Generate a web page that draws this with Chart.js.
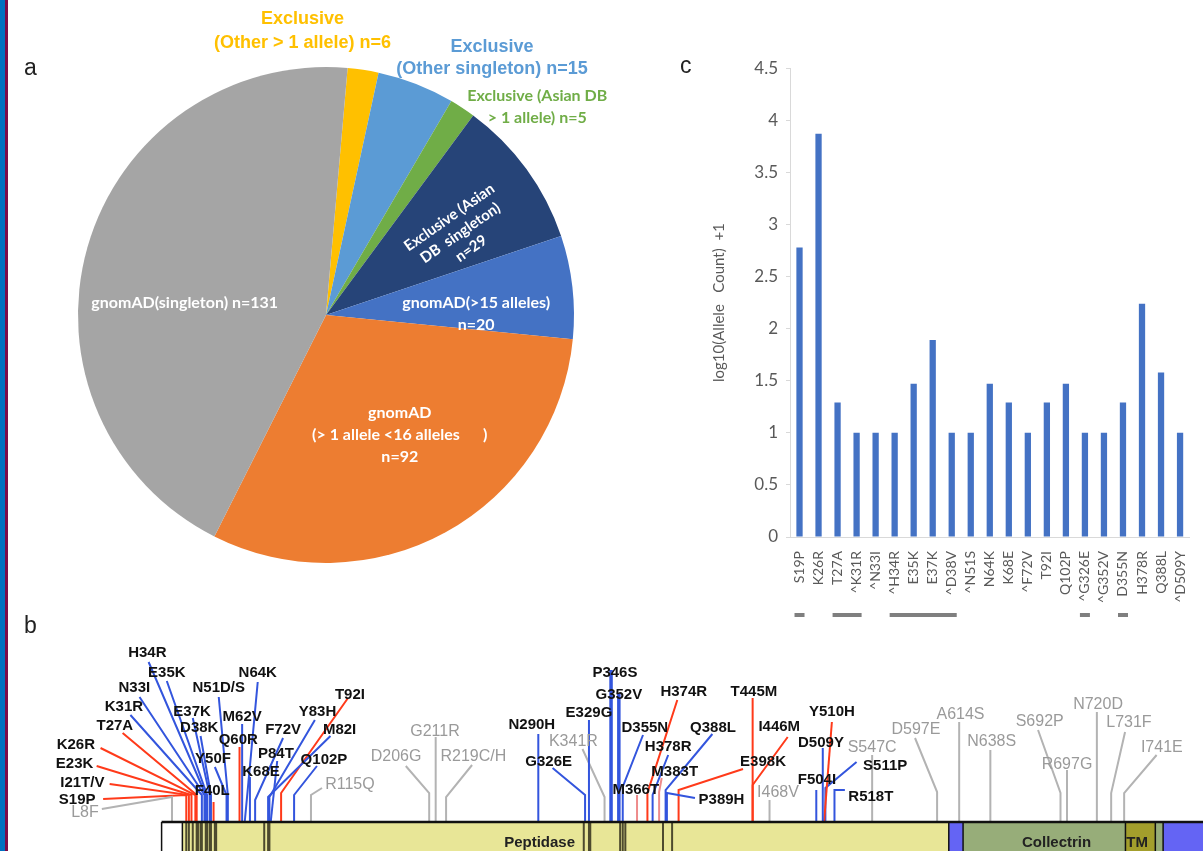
<!DOCTYPE html>
<html>
<head>
<meta charset="utf-8">
<script src="https://cdn.jsdelivr.net/npm/chart.js@4.4.1/dist/chart.umd.min.js"></script>
<style>
  html, body { margin: 0; padding: 0; background: #fff; }
  body { width: 1203px; height: 851px; position: relative; overflow: hidden; font-family: "Liberation Sans", Arial, sans-serif; }
  .edge1 { position: absolute; left: 0; top: 0; width: 5px; height: 851px; background: #0070c0; }
  .edge2 { position: absolute; left: 5px; top: 0; width: 3px; height: 851px; background: #7b0c4a; }
  .tag { position: absolute; font-size: 23px; color: #222; line-height: 1; }
  .box { position: absolute; }
</style>
</head>
<body>
<div class="edge1"></div><div class="edge2"></div>
<div class="box" style="left:0;top:0;width:680px;height:600px;"><canvas id="pieChart"></canvas></div>
<div class="box" style="left:690px;top:50px;width:513px;height:580px;"><canvas id="barChart"></canvas></div>
<div class="box" style="left:0;top:600px;width:1203px;height:251px;"><canvas id="lolliChart"></canvas></div>
<div class="tag" style="left:24px;top:56px;">a</div>
<div class="tag" style="left:680px;top:54px;">c</div>
<div class="tag" style="left:24px;top:614px;">b</div>

<script>
// ---- panel a: variant classes ----
const pieCategories = [
  'Exclusive (Other > 1 allele)',
  'Exclusive (Other singleton)',
  'Exclusive (Asian DB > 1 allele)',
  'Exclusive (Asian DB singleton)',
  'gnomAD(>15 alleles)',
  'gnomAD (> 1 allele <16 alleles)',
  'gnomAD(singleton)'
];
const pieCounts = [6, 15, 5, 29, 20, 92, 131];
const pieColors = ['#ffc000', '#5b9bd5', '#70ad47', '#264478', '#4472c4', '#ed7d31', '#a5a5a5'];

// ---- panel c: allele counts ----
const variants = ['S19P', 'K26R', 'T27A', '^K31R', '^N33I', '^H34R', 'E35K', 'E37K', '^D38V', '^N51S',
  'N64K', 'K68E', '^F72V', 'T92I', 'Q102P', '^G326E', '^G352V', 'D355N', 'H378R', 'Q388L', '^D509Y'];
const logCounts = [2.78, 3.87, 1.29, 1, 1, 1, 1.47, 1.89, 1, 1,
  1.47, 1.29, 1, 1.29, 1.47, 1, 1, 1.29, 2.24, 1.58, 1];
const underlined = [0, 2, 3, 5, 6, 7, 8, 15, 17];
const yTicks = [0, 0.5, 1, 1.5, 2, 2.5, 3, 3.5, 4, 4.5];

// ---- panel b: variants along the protein ----
const lolliNames = ['L8F', 'S19P', 'I21T/V', 'E23K', 'K26R', 'T27A', 'K31R', 'N33I', 'H34R', 'E35K',
  'E37K', 'D38K', 'F40L', 'Y50F', 'N51D/S', 'Q60R', 'M62V', 'N64K', 'K68E', 'F72V',
  'M82I', 'Y83H', 'P84T', 'T92I', 'Q102P', 'R115Q', 'D206G', 'G211R', 'R219C/H', 'N290H',
  'G326E', 'E329G', 'K341R', 'P346S', 'G352V', 'D355N', 'M366T', 'H374R', 'H378R', 'M383T',
  'Q388L', 'P389H', 'E398K', 'T445M', 'I446M', 'I468V', 'F504I', 'D509Y', 'Y510H', 'S511P',
  'R518T', 'S547C', 'D597E', 'A614S', 'N638S', 'S692P', 'R697G', 'N720D', 'L731F', 'I741E'];
const lolliPos = [8, 19, 21, 23, 26, 27, 31, 33, 34, 35,
  37, 38, 40, 50, 51, 60, 62, 64, 68, 72,
  82, 83, 84, 92, 102, 115, 206, 211, 219, 290,
  326, 329, 341, 346, 352, 355, 366, 374, 378, 383,
  388, 389, 398, 455, 455, 468, 504, 509, 510, 511,
  518, 547, 597, 614, 638, 692, 697, 720, 731, 741];
// r = red, b = blue, g = grey, f = faint red
const lolliKind = ['g', 'r', 'r', 'r', 'r', 'r', 'b', 'b', 'b', 'b',
  'b', 'b', 'r', 'b', 'b', 'r', 'b', 'b', 'b', 'b',
  'b', 'b', 'b', 'r', 'b', 'g', 'g', 'g', 'g', 'b',
  'b', 'b', 'g', 'b', 'b', 'b', 'f', 'r', 'b', 'f',
  'b', 'b', 'r', 'r', 'r', 'g', 'b', 'b', 'r', 'b',
  'b', 'g', 'g', 'g', 'g', 'g', 'g', 'g', 'g', 'g'];

const domainStart = [0, 16, 606, 617, 742, 765, 771];
const domainEnd = [16, 606, 617, 742, 765, 771, 830];
const domainName = ['', 'Peptidase', '', 'Collectrin', 'TM', '', ''];
const domainLabelAt = [0, 291, 0, 689, 751, 0, 0];
const contactSites = [19, 21, 24, 27, 28, 30, 31, 34, 35, 37, 38, 41, 42, 79, 82, 83, 325, 329, 330, 353, 355, 357, 386, 393];

// label layout for panel b, in axis units: [labelX, labelY, lineStartX, lineStartY, kneeY]
const lolliLayout = [
  [-59, 9, -46, 13, 25], [-65, 22, -45, 23, 27], [-61, 39, -40, 38, 27], [-67, 58, -50, 56, 27], [-66, 77, -47, 74, 27],
  [-36, 96, -30, 89, 27], [-29, 115, -24, 107, 27], [-21, 134, -17, 125, 27], [-11, 169, -10, 160, 27], [4, 149, 4, 141, 27],
  [23.5, 110, 24, 104, 27], [29, 94, 30, 86, 27], [39, 31, 40, 20, null], [39.6, 63, 41, 55, 27], [44, 134, 44, 125, 27],
  [59, 82, 60, 75, null], [62, 105, 62, 98, null], [74, 149, 74, 140, 0], [76.5, 50, 68, 45, null], [93.5, 92, 93.5, 84, 22],
  [137, 92, 130, 86, 25], [120, 110, 118, 102, 25], [88, 68, 89, 61, 0], [145, 127, 143.5, 124, 29], [125, 62, 119.6, 56, 27],
  [145, 37, 123.5, 34, 27], [180.5, 65, 188, 56, 29], [210.5, 90, 211, 85, null], [240, 65, 239, 57, 25], [285, 97, 290, 88, null],
  [298, 60, 301, 54, 27], [329, 109, 329, 102, null], [317, 80, 324, 73, 25], [349, 149, 346, 152, null], [352, 127, 352, 129, null],
  [372, 94, 370.6, 87, 35], [365, 32, 366, 27, null], [402, 130, 397, 122, 29], [390, 75, 390, 67, 27], [395, 50, 385, 44, 30],
  [424.5, 94, 424, 88, 32], [431, 22, 410.6, 24, 29], [463, 60, 447.6, 53, 32], [456, 130, 455, 124, null], [475.5, 95, 482, 85, 37],
  [474.5, 29, 468, 22, null], [504.5, 42, 504, 32, null], [507.6, 79, 509, 74, null], [516, 110, 516, 100, 0], [557, 56, 535, 60, 34],
  [546, 25, 526, 32, 32], [547, 74, 547, 67, null], [580.7, 92, 580, 84, 30], [615, 107, 614, 100, null], [639, 80, 638, 72, null],
  [676, 100, 674.7, 92, 29], [697, 57, 697, 52, null], [720.9, 117, 720, 110, null], [744.7, 99, 741.7, 90, 29], [770, 74, 766, 67, 29]
];

// ---- pie labels: [lines, color, font, dx, dy, rotation(deg), line height] relative to the slice's mid point ----
const pieLabels = [
  [['Exclusive', '(Other > 1 allele) n=6'], '#ffc000', 'bold 18px "Liberation Sans", Arial', -42, -161, 0, 24],
  [['Exclusive', '(Other singleton) n=15'], '#5b9bd5', 'bold 18px "Liberation Sans", Arial', 121, -141, 0, 22],
  [['Exclusive (Asian DB', '> 1 allele) n=5'], '#70ad47', 'bold 16px Lato', 143, -105, 0, 22],
  [['Exclusive (Asian', 'DB  singleton)', 'n=29'], '#ffffff', 'bold 15px Lato', 34, -9, -35, 19],
  [['gnomAD(>15 alleles)', 'n=20'], '#ffffff', 'bold 16px Lato', 27, 13, 0, 22],
  [['gnomAD', '(> 1 allele <16 alleles      )', 'n=92'], '#ffffff', 'bold 16px Lato', 14, 11, 0, 22],
  [['gnomAD(singleton) n=131'], '#ffffff', 'bold 16px Lato', -22, 22, 0, 22]
];

const pieLabelPlugin = {
  id: 'pieLabels',
  afterDatasetsDraw(chart) {
    const ctx = chart.ctx;
    const arcs = chart.getDatasetMeta(0).data;
    pieLabels.forEach(function (lab, i) {
      const p = arcs[i].tooltipPosition();
      const lines = lab[0];
      const lh = lab[6];
      ctx.save();
      ctx.translate(p.x + lab[3], p.y + lab[4]);
      ctx.rotate(lab[5] * Math.PI / 180);
      ctx.fillStyle = lab[1];
      ctx.font = lab[2];
      ctx.textAlign = 'center';
      ctx.textBaseline = 'middle';
      lines.forEach(function (t, k) {
        ctx.fillText(t, 0, (k - (lines.length - 1) / 2) * lh);
      });
      ctx.restore();
    });
  }
};

new Chart(document.getElementById('pieChart'), {
  type: 'pie',
  data: {
    labels: pieCategories,
    datasets: [{
      data: pieCounts,
      backgroundColor: pieColors,
      borderWidth: 0
    }]
  },
  options: {
    responsive: true,
    maintainAspectRatio: false,
    animation: false,
    rotation: 5,
    layout: { padding: { left: 78, top: 67, right: 106, bottom: 37 } },
    plugins: { legend: { display: false }, tooltip: { enabled: false } }
  },
  plugins: [pieLabelPlugin]
});

// dashes under some of the x labels of panel c
const underlinePlugin = {
  id: 'underline',
  afterDraw(chart) {
    const ctx = chart.ctx;
    const x = chart.scales.x;
    const y = chart.chartArea.bottom + 78;
    const runs = [];
    underlined.forEach(function (i) {
      const last = runs[runs.length - 1];
      if (last && last[1] === i - 1) last[1] = i; else runs.push([i, i]);
    });
    ctx.save();
    ctx.strokeStyle = '#7f7f7f';
    ctx.lineWidth = 4;
    runs.forEach(function (r) {
      ctx.beginPath();
      ctx.moveTo(x.getPixelForValue(r[0]) - 5, y);
      ctx.lineTo(x.getPixelForValue(r[1]) + 5, y);
      ctx.stroke();
    });
    ctx.restore();
  }
};

new Chart(document.getElementById('barChart'), {
  type: 'bar',
  data: {
    labels: variants,
    datasets: [{
      data: logCounts,
      backgroundColor: '#4472c4',
      categoryPercentage: 1,
      barPercentage: 0.33
    }]
  },
  options: {
    responsive: true,
    maintainAspectRatio: false,
    animation: false,
    layout: { padding: { top: 17, right: 6 } },
    plugins: { legend: { display: false }, tooltip: { enabled: false } },
    scales: {
      x: {
        grid: { display: false },
        border: { color: '#d9d9d9' },
        ticks: { maxRotation: 90, minRotation: 90, autoSkip: false, padding: 6, color: '#595959', font: { family: 'Lato', size: 14 } },
        afterFit(s) { s.height = 93; }
      },
      y: {
        min: 0,
        max: 4.5,
        afterBuildTicks(s) { s.ticks = yTicks.map(v => ({ value: v })); },
        ticks: {
          color: '#595959',
          padding: 8,
          font: { family: 'Lato', size: 17 },
          callback: function (value) { return String(value); }
        },
        grid: { drawOnChartArea: false, tickLength: 4, color: '#d9d9d9' },
        border: { color: '#d9d9d9' },
        title: {
          display: true,
          text: 'log10(Allele   Count)  +1',
          color: '#595959',
          font: { family: 'Lato', size: 15 },
          padding: { top: 20 }
        },
        afterFit(s) { s.width = 100; }
      }
    }
  },
  plugins: [underlinePlugin]
});

// ---- panel b ----
const lineColor = { r: '#ff3a1a', b: '#3355dd', g: '#b3b3b3', f: 'rgba(232, 100, 100, 0.75)' };
const textColor = { r: '#111111', b: '#111111', g: '#9a9a9a', f: '#111111' };

const lolliSets = lolliNames.map(function (name, i) {
  const L = lolliLayout[i];
  const pos = lolliPos[i];
  let pts;
  if (L[4] === null) {
    pts = [{ x: pos, y: L[3] }, { x: pos, y: 0 }];
  } else {
    pts = [{ x: L[2], y: L[3] }, { x: pos, y: L[4] }, { x: pos, y: 0 }];
  }
  return {
    label: name,
    data: pts,
    showLine: true,
    pointRadius: 0,
    borderColor: lineColor[lolliKind[i]],
    borderWidth: (name === 'P346S' || name === 'G352V') ? 3.5 : 2,
    clip: false
  };
});

const proteinPlugin = {
  id: 'protein',
  afterDatasetsDraw(chart) {
    const ctx = chart.ctx;
    const x = chart.scales.x, y = chart.scales.y;
    const top = y.getPixelForValue(0);
    const bottom = chart.height + 2;
    ctx.save();
    // domains
    domainStart.forEach(function (s, i) {
      const x0 = x.getPixelForValue(s), x1 = x.getPixelForValue(domainEnd[i]);
      ctx.fillStyle = ['#ffffff', '#e8e697', '#6464f4', '#97ad79', '#a39e2c', '#97ad79', '#6464f4'][i];
      ctx.fillRect(x0, top, x1 - x0, bottom - top);
    });
    // contact-site stripes
    ctx.strokeStyle = '#4d4a2e';
    ctx.lineWidth = 2;
    contactSites.forEach(function (r) {
      const px = x.getPixelForValue(r);
      ctx.beginPath(); ctx.moveTo(px, top); ctx.lineTo(px, bottom); ctx.stroke();
    });
    // borders
    ctx.strokeStyle = '#111';
    ctx.lineWidth = 1.5;
    domainStart.forEach(function (s, i) {
      const x0 = x.getPixelForValue(s);
      ctx.beginPath(); ctx.moveTo(x0, top); ctx.lineTo(x0, bottom); ctx.stroke();
    });
    ctx.lineWidth = 2.5;
    ctx.beginPath(); ctx.moveTo(x.getPixelForValue(0), top); ctx.lineTo(chart.width, top); ctx.stroke();
    // domain names
    ctx.fillStyle = '#222';
    ctx.font = 'bold 15px "Liberation Sans", Arial';
    ctx.textAlign = 'center';
    ctx.textBaseline = 'middle';
    domainName.forEach(function (n, i) {
      if (n) ctx.fillText(n, x.getPixelForValue(domainLabelAt[i]), y.getPixelForValue(-21));
    });
    // variant labels
    lolliNames.forEach(function (name, i) {
      const L = lolliLayout[i];
      const k = lolliKind[i];
      ctx.fillStyle = textColor[k];
      ctx.font = k === 'g' ? '16px "Liberation Sans", Arial' : 'bold 15px "Liberation Sans", Arial';
      ctx.fillText(name, x.getPixelForValue(L[0]), y.getPixelForValue(L[1]));
    });
    ctx.restore();
  }
};

new Chart(document.getElementById('lolliChart'), {
  type: 'scatter',
  data: { datasets: lolliSets },
  options: {
    responsive: true,
    maintainAspectRatio: false,
    animation: false,
    layout: { padding: 0 },
    plugins: { legend: { display: false }, tooltip: { enabled: false } },
    scales: {
      x: { type: 'linear', min: -124.4, max: 801.7, display: false },
      y: { type: 'linear', min: -29, max: 222, display: false }
    }
  },
  plugins: [proteinPlugin]
});
</script>
</body>
</html>
